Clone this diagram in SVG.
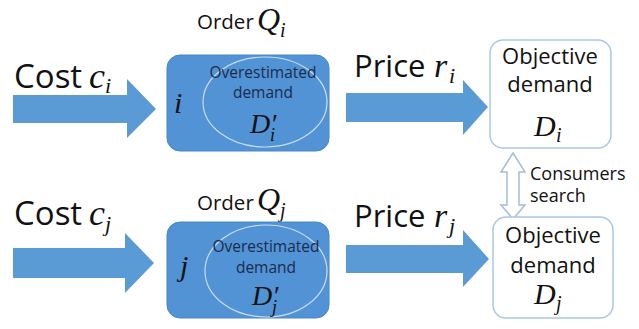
<svg xmlns="http://www.w3.org/2000/svg" width="639" height="329" viewBox="0 0 639 329">
<style>
.lbl{font-family:"Open Sans","Liberation Sans",sans-serif;fill:#111;}
.m{font-family:"Liberation Serif",serif;font-style:italic;fill:#111;}
.arw{fill:#5b9bd5;}
.firm{fill:#5293d5;stroke:#4a86c4;stroke-width:1;}
.ell{fill:none;stroke:#c9ddf1;stroke-width:1.2;}
.est{font-family:"Open Sans","Liberation Sans",sans-serif;fill:#1c2b4a;font-size:15.5px;text-anchor:middle;}
.obj{fill:#fff;stroke:#a9c8e6;stroke-width:1.5;}
.ot{font-family:"Open Sans","Liberation Sans",sans-serif;fill:#111;font-size:22px;text-anchor:middle;}
</style>
<rect width="639" height="329" fill="#fff"/>
<g id="connectors">
<path class="arw" d="M13,95 L127,95 L127,79 L156,109 L127,138 L127,123 L13,123 Z"/>
<path class="arw" d="M13,248 L125,248 L125,233 L154,263 L125,293 L125,278 L13,278 Z"/>
<path class="arw" d="M346,93 L463,93 L463,80 L488,107 L463,135 L463,122 L346,122 Z"/>
<path class="arw" d="M346,245 L463,245 L463,230 L489,259 L463,287 L463,273 L346,273 Z"/>
<path d="M513,153 L525,172 L519,172 L519,205 L525,205 L513,219 L501,205 L507,205 L507,172 L501,172 Z" fill="#fff" stroke="#a8bdd4" stroke-width="1.5"/>
<text class="lbl" x="14" y="88" font-size="33">Cost</text>
<text class="m" x="89" y="88" font-size="36">c</text><text class="m" x="105" y="93" font-size="22">i</text>
<text class="lbl" x="14" y="225" font-size="33">Cost</text>
<text class="m" x="89" y="225" font-size="36">c</text><text class="m" x="105" y="231" font-size="22">j</text>
<text class="lbl" x="354" y="77" font-size="31">Price</text>
<text class="m" x="434" y="77" font-size="34">r</text><text class="m" x="449" y="83" font-size="22">i</text>
<text class="lbl" x="354" y="227" font-size="31">Price</text>
<text class="m" x="434" y="227" font-size="34">r</text><text class="m" x="449" y="233" font-size="22">j</text>
<text class="lbl" x="530" y="180" font-size="18">Consumers</text>
<text class="lbl" x="530" y="202" font-size="18">search</text>
</g>
<g id="firm-i">
<text class="lbl" x="197" y="29" font-size="20.5">Order</text>
<text class="m" x="257" y="30" font-size="32">Q</text><text class="m" x="280" y="37" font-size="20">i</text>
<rect class="firm" x="167" y="55" width="162" height="96" rx="13"/>
<ellipse class="ell" cx="265" cy="102" rx="62" ry="45"/>
<text class="m" x="174" y="113" font-size="30">i</text>
<text class="est" x="263" y="78">Overestimated</text>
<text class="est" x="263" y="98">demand</text>
<text class="m" x="250" y="133" font-size="28">D′</text><text class="m" x="270" y="141" font-size="18">i</text>
</g>
<g id="firm-j">
<text class="lbl" x="197" y="210" font-size="20.5">Order</text>
<text class="m" x="257" y="210" font-size="32">Q</text><text class="m" x="280" y="217" font-size="20">j</text>
<rect class="firm" x="167" y="222" width="162" height="96" rx="13"/>
<ellipse class="ell" cx="266" cy="271" rx="61" ry="46"/>
<text class="m" x="180" y="276" font-size="30">j</text>
<text class="est" x="266" y="252">Overestimated</text>
<text class="est" x="266" y="273">demand</text>
<text class="m" x="252" y="305" font-size="28">D′</text><text class="m" x="272" y="313" font-size="18">j</text>
</g>
<g id="demand-i">
<rect class="obj" x="490" y="40" width="121" height="108" rx="13"/>
<text class="ot" x="550" y="64">Objective</text>
<text class="ot" x="550" y="92">demand</text>
<text class="m" x="534" y="136" font-size="30">D</text><text class="m" x="556" y="142" font-size="20">i</text>
</g>
<g id="demand-j">
<rect class="obj" x="493" y="217" width="120" height="101" rx="13"/>
<text class="ot" x="553" y="243" font-size="23">Objective</text>
<text class="ot" x="553" y="273" font-size="23">demand</text>
<text class="m" x="534" y="304" font-size="30">D</text><text class="m" x="556" y="310" font-size="20">j</text>
</g>
</svg>
